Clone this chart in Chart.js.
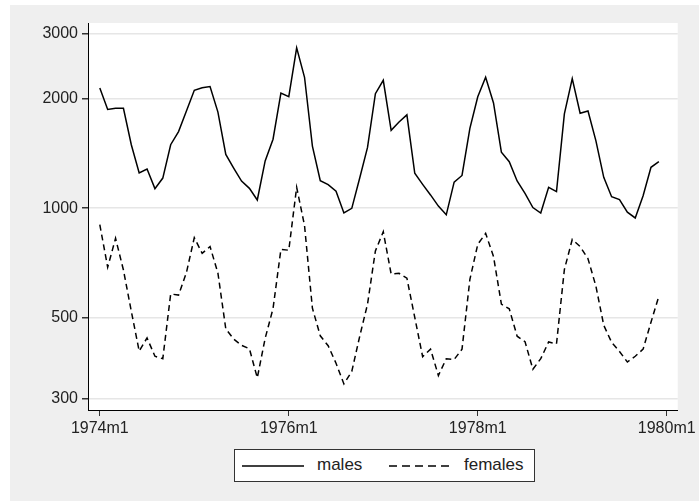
<!DOCTYPE html>
<html>
<head>
<meta charset="utf-8">
<script src="https://cdn.jsdelivr.net/npm/chart.js@4"></script>
<style>
  html, body { margin: 0; padding: 0; background: #fff; }
  #wrap { position: relative; width: 699px; height: 501px; }
  #legend {
    position: absolute; left: 234px; top: 449px; width: 299px; height: 31px;
    background: #fff; border: 1px solid #333;
    font-family: "Liberation Sans", Arial, sans-serif; font-size: 17px; color: #222;
  }
  #legend svg { position: absolute; top: 14px; }
  #legend .txt { position: absolute; top: 5px; }
</style>
</head>
<body>
<div id="wrap">
  <canvas id="chart" width="699" height="501"></canvas>
  <div id="legend">
    <svg style="left:7px" width="62" height="4"><line x1="0" y1="2" x2="62" y2="2" stroke="#000" stroke-width="1.5"/></svg>
    <div class="txt" style="left:82px;">males</div>
    <svg style="left:154px" width="64" height="4"><line x1="0" y1="2" x2="64" y2="2" stroke="#000" stroke-width="1.5" stroke-dasharray="8 5"/></svg>
    <div class="txt" style="left:229px;">females</div>
  </div>
</div>
<script>
// Monthly lung disease deaths, 1974m1 - 1979m12
const males = [
  2134, 1863, 1877, 1877, 1492, 1249, 1280, 1131, 1209, 1492, 1621, 1846,
  2103, 2137, 2153, 1833, 1403, 1288, 1186, 1133, 1053, 1347, 1545, 2066,
  2020, 2750, 2283, 1479, 1189, 1160, 1113, 970, 999, 1208, 1467, 2059,
  2240, 1634, 1722, 1801, 1246, 1162, 1087, 1013, 959, 1179, 1229, 1655,
  2019, 2284, 1942, 1423, 1340, 1187, 1098, 1004, 970, 1140, 1110, 1812,
  2263, 1820, 1846, 1531, 1215, 1075, 1056, 975, 940, 1081, 1294, 1341
];
const females = [
  901, 689, 827, 677, 522, 406, 441, 393, 387, 582, 578, 666,
  830, 752, 785, 664, 467, 438, 421, 412, 343, 440, 531, 771,
  767, 1141, 896, 532, 447, 420, 376, 330, 357, 445, 546, 764,
  862, 660, 663, 643, 502, 392, 411, 348, 387, 385, 411, 638,
  796, 853, 737, 546, 530, 446, 431, 362, 387, 430, 425, 679,
  821, 785, 727, 612, 478, 429, 405, 379, 393, 411, 487, 574
];
const xTickValues = [0, 24, 48, 72];
const xTickLabels = ['1974m1', '1976m1', '1978m1', '1980m1'];
const yTickValues = [300, 500, 1000, 2000, 3000];

const toPoints = arr => arr.map((v, i) => ({ x: i, y: v }));

// gray backdrop and white plot region
const backdrop = {
  id: 'backdrop',
  beforeDraw(c) {
    const ctx = c.ctx, a = c.chartArea;
    ctx.save();
    ctx.fillStyle = '#efefef';
    ctx.fillRect(10, 5, c.width - 10, c.height - 5);
    ctx.fillStyle = '#fff';
    ctx.fillRect(a.left, a.top, a.right - a.left, a.bottom - a.top);
    ctx.restore();
  }
};

const font = { family: '"Liberation Sans", Arial, sans-serif', size: 16 };

new Chart(document.getElementById('chart'), {
  type: 'line',
  data: {
    datasets: [
      { label: 'males', data: toPoints(males), borderColor: '#000', borderWidth: 1.5, pointRadius: 0, tension: 0 },
      { label: 'females', data: toPoints(females), borderColor: '#000', borderWidth: 1.5, borderDash: [6, 4], pointRadius: 0, tension: 0 }
    ]
  },
  options: {
    responsive: false,
    animation: false,
    layout: { padding: { top: 23, right: 19, left: 0, bottom: 0 } },
    plugins: { legend: { display: false }, tooltip: { enabled: false } },
    scales: {
      x: {
        type: 'linear',
        min: -1.5,
        max: 73.4,
        afterBuildTicks: s => { s.ticks = xTickValues.map(v => ({ value: v })); },
        afterFit: s => { s.height = 91; },
        ticks: {
          autoSkip: false, maxRotation: 0, color: '#222', font: font, padding: 3,
          callback: v => xTickLabels[xTickValues.indexOf(v)]
        },
        grid: { drawOnChartArea: false, tickColor: '#333', tickLength: 6 },
        border: { color: '#000', width: 1 }
      },
      y: {
        type: 'logarithmic',
        min: 280,
        max: 3215,
        afterBuildTicks: s => { s.ticks = yTickValues.map(v => ({ value: v })); },
        afterFit: s => { s.width = 88; },
        ticks: {
          autoSkip: false, color: '#222', font: font, padding: 4,
          callback: v => String(v)
        },
        grid: { color: '#e6e6e6', lineWidth: 1.5, tickColor: '#333', tickLength: 6 },
        border: { color: '#000', width: 1 }
      }
    }
  },
  plugins: [backdrop]
});
</script>
</body>
</html>
